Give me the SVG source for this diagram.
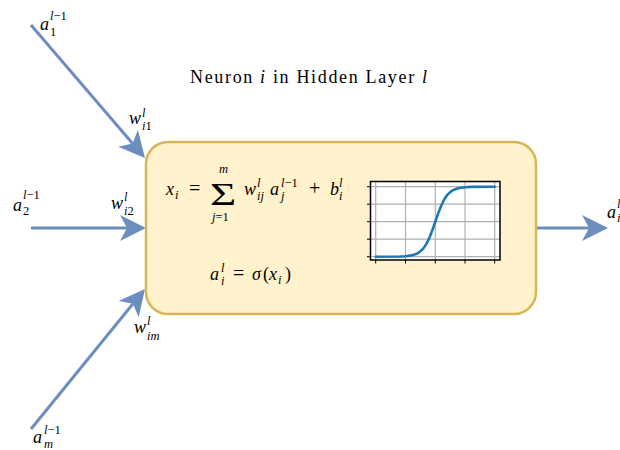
<svg xmlns="http://www.w3.org/2000/svg" width="620" height="450" viewBox="0 0 620 450">
<style>
.t{font-family:"Liberation Serif","DejaVu Serif",serif;fill:#000}
.m{font-size:18px;font-style:italic}
.r{font-size:18px;font-style:normal}
.s{font-size:12.5px;font-style:italic}
.n{font-style:normal}
.edge{fill:none;stroke:#6c8ebf;stroke-width:3}
.grid{stroke:#b0b0b0;stroke-width:1.2;fill:none}
.tick{stroke:#000;stroke-width:1}
</style>
<defs>
<marker id="ah" viewBox="0 0 26 26" markerWidth="26" markerHeight="26" refX="7" refY="13" orient="auto" markerUnits="userSpaceOnUse"><path d="M0,0 L26,13 L0,26 L7,13 Z" fill="#6c8ebf"/></marker>
</defs>
<rect width="620" height="450" fill="#fff"/>
<g id="connectors">
<path class="edge" d="M31,25 L132.6,143.6" marker-end="url(#ah)"/>
<path class="edge" d="M31,228 L127,228" marker-end="url(#ah)"/>
<path class="edge" d="M31,429 L133,303.7" marker-end="url(#ah)"/>
<path class="edge" d="M537,228 L589,228" marker-end="url(#ah)"/>
</g>
<g id="neuron">
<rect x="146" y="142" width="390" height="172" rx="22" fill="#fff2cc" stroke="#d6b656" stroke-width="2.5"/>
<text class="t r" x="190" y="83" textLength="237" lengthAdjust="spacing">Neuron <tspan style="font-style:italic">i</tspan> in Hidden Layer <tspan style="font-style:italic">l</tspan></text>
<g id="formula1">
<text class="t m" x="166" y="195">x</text>
<text class="t s" x="175" y="199">i</text>
<text class="t r" x="189" y="195" style="font-size:20px">=</text>
<text class="t r" transform="translate(210,204.5) scale(1.45,1)" style="font-size:31px">Σ</text>
<text class="t s" x="219" y="173">m</text>
<text class="t s" x="212" y="221">j<tspan class="n">=1</tspan></text>
<text class="t m" x="244" y="195">w</text>
<text class="t s" x="257" y="187">l</text>
<text class="t s" x="257" y="200">ij</text>
<text class="t m" x="270" y="195">a</text>
<text class="t s" x="281" y="187">l<tspan class="n">−1</tspan></text>
<text class="t s" x="281" y="200">j</text>
<text class="t r" x="309" y="195" style="font-size:20px">+</text>
<text class="t m" x="330" y="195">b</text>
<text class="t s" x="339" y="187">l</text>
<text class="t s" x="339" y="200">i</text>
</g>
<g id="formula2">
<text class="t m" x="210" y="280">a</text>
<text class="t s" x="221" y="272">l</text>
<text class="t s" x="221" y="285">i</text>
<text class="t r" x="233" y="280" style="font-size:20px">=</text>
<text class="t m" x="252" y="280">σ</text>
<text class="t r" x="263" y="280">(</text>
<text class="t m" x="269" y="280">x</text>
<text class="t s" x="278" y="284">i</text>
<text class="t r" x="285" y="280">)</text>
</g>
<g id="sigmoid-plot">
<rect x="370.5" y="181.5" width="129.5" height="78.5" fill="#fff"/>
<path class="grid" d="M375.7,181.5V260M405.5,181.5V260M435.3,181.5V260M465,181.5V260M494.7,181.5V260M370.5,186.7H500M370.5,204.2H500M370.5,221.7H500M370.5,239.2H500M370.5,256.7H500"/>
<path class="tick" d="M367,186.7H370.5M367,204.2H370.5M367,221.7H370.5M367,239.2H370.5M367,256.7H370.5M375.7,260V263.5M405.5,260V263.5M435.3,260V263.5M465,260V263.5M494.7,260V263.5"/>
<polyline fill="none" stroke="#1f77b4" stroke-width="2.6" stroke-linejoin="round" stroke-linecap="round" points="375.8,256.7 399.6,256.5 405.6,256.2 411.5,255.4 417.5,253.4 420.4,251.3 423.4,248.4 426.4,243.9 429.4,237.9 432.3,230.3 435.3,221.7 438.3,213.1 441.3,205.5 444.2,199.5 447.2,195.0 450.2,192.1 453.2,190.0 459.1,188.0 465.1,187.2 471.0,186.9 494.8,186.7"/>
<rect x="370.5" y="181.5" width="129.5" height="78.5" fill="none" stroke="#000" stroke-width="1.5"/>
</g>
</g>
<g id="input1">
<text class="t m" x="40" y="30">a</text>
<text class="t s" x="50" y="20">l<tspan class="n">−1</tspan></text>
<text class="t s" x="50" y="36"><tspan class="n">1</tspan></text>
<text class="t m" x="129" y="124">w</text>
<text class="t s" x="142" y="117">l</text>
<text class="t s" x="142" y="130">i<tspan class="n">1</tspan></text>
</g>
<g id="input2">
<text class="t m" x="13" y="211">a</text>
<text class="t s" x="23" y="199">l<tspan class="n">−1</tspan></text>
<text class="t s" x="23" y="215"><tspan class="n">2</tspan></text>
<text class="t m" x="111" y="209">w</text>
<text class="t s" x="124" y="201">l</text>
<text class="t s" x="124" y="215">i<tspan class="n">2</tspan></text>
</g>
<g id="inputm">
<text class="t m" x="33" y="443">a</text>
<text class="t s" x="44" y="434">l<tspan class="n">−1</tspan></text>
<text class="t s" x="44" y="448">m</text>
<text class="t m" x="134" y="333">w</text>
<text class="t s" x="147" y="325">l</text>
<text class="t s" x="147" y="340">im</text>
</g>
<g id="output">
<text class="t m" x="607" y="218">a</text>
<text class="t s" x="617" y="208">l</text>
<text class="t s" x="617" y="222">i</text>
</g>
</svg>
